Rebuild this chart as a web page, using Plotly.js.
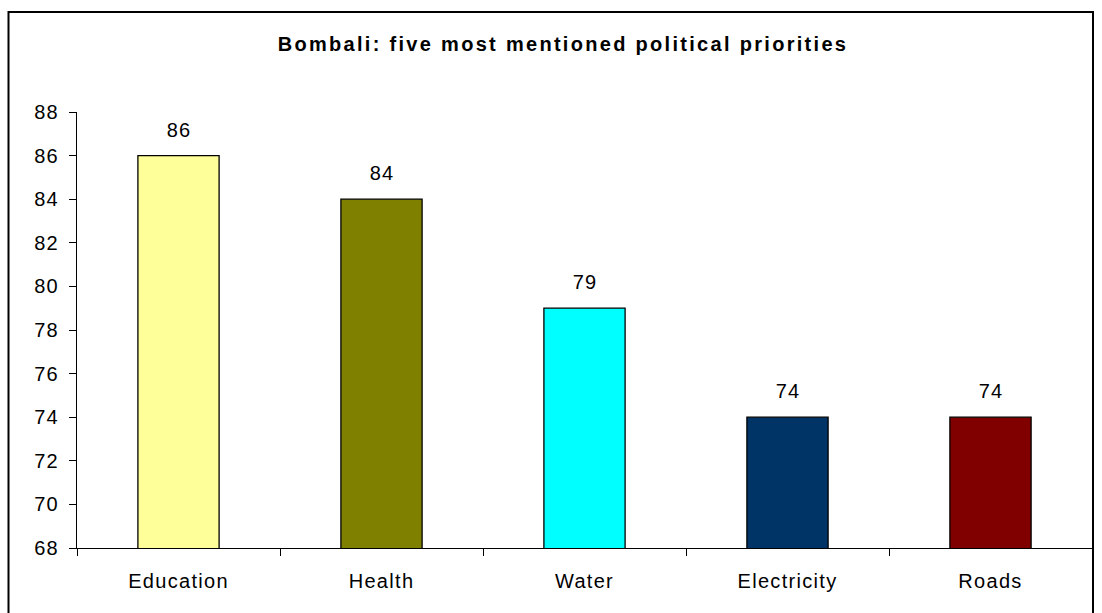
<!DOCTYPE html>
<html><head><meta charset="utf-8">
<script src="https://cdn.plot.ly/plotly-3.0.1.min.js"></script>
<style>body{margin:0;background:#fff}#c{width:1102px;height:613px}
#c .xtick text,#c .ytick text,#c .annotation-text{letter-spacing:1.3px}
#c .gtitle{letter-spacing:2.3px}
</style>
</head><body><div id="c"></div>
<script>
const categories = ["Education","Health","Water","Electricity","Roads"];
const values = [86,84,79,74,74];
const barColors = ["#FFFF99","#808000","#00FFFF","#003366","#800000"];
const yTicks = [68,70,72,74,76,78,80,82,84,86,88];

const L=77,R=10,T=112,B=65,W=1102,H=613;
const pw=W-L-R, ph=H-T-B;
const px=x=>(x-L)/pw, py=y=>(H-B-y)/ph;
const FONT='Liberation Sans, Arial, sans-serif';

Plotly.newPlot('c',[{
  type:'bar', x:categories, y:values,
  marker:{color:barColors, line:{color:'#000',width:1.3}},
  width:0.4,
  hoverinfo:'none'
}],{
  width:W,height:H,
  margin:{l:L,r:R,t:T,b:B},
  paper_bgcolor:'#fff',plot_bgcolor:'#fff',
  showlegend:false,
  font:{family:FONT,color:'#000'},
  title:{text:'<b>Bombali: five most mentioned political priorities</b>',
    font:{size:20,color:'#000'}, x:px(563), xref:'paper', xanchor:'center', y:1-44/H, yanchor:'middle'},
  xaxis:{type:'category', showgrid:false, showline:true, linecolor:'#000', linewidth:1,
    ticks:'outside', tickson:'boundaries', ticklen:7, tickcolor:'#000',
    tickfont:{size:20}, ticklabelstandoff:15, zeroline:false},
  yaxis:{range:[68,88], tickvals:yTicks, showgrid:false, showline:true, linecolor:'#000', linewidth:1,
    ticks:'outside', ticklen:7, tickcolor:'#000', tickfont:{size:20}, ticklabelstandoff:6, zeroline:false},
  annotations: categories.map((c,i)=>({x:c, y:values[i], xref:'x', yref:'y', text:String(values[i]),
    showarrow:false, yanchor:'bottom', yshift:13, font:{size:20,color:'#000',family:FONT}})),
  shapes:[{type:'rect', xref:'paper', yref:'paper', x0:px(8.5), x1:px(1093), y0:py(630), y1:py(12),
    line:{color:'#000',width:2}, fillcolor:'rgba(0,0,0,0)', layer:'above'}]
},{staticPlot:true});
</script></body></html>
